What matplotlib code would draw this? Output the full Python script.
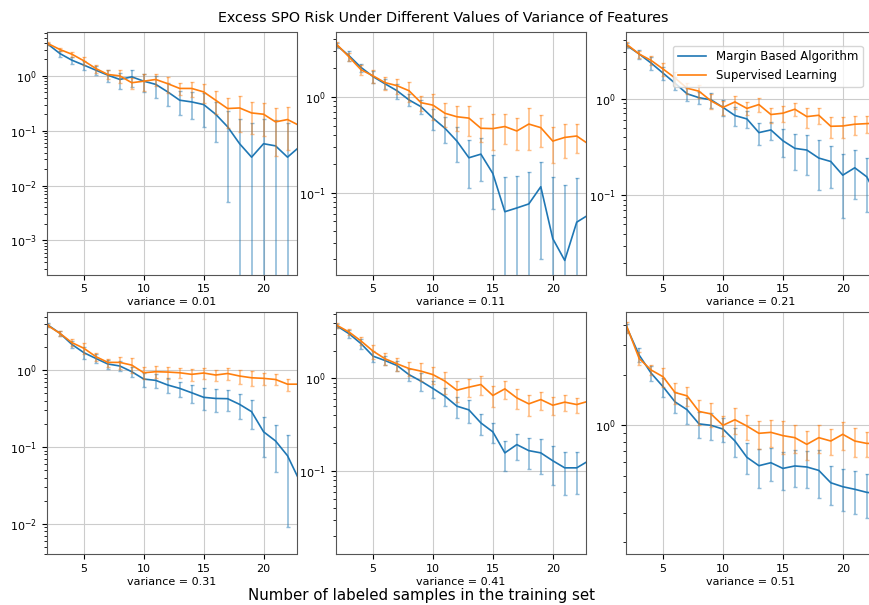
import numpy as np
import matplotlib
matplotlib.use("Agg")
import matplotlib.pyplot as plt

plt.rcParams['font.family'] = ['DejaVu Sans']
plt.rcParams['font.size'] = 8

# number of labeled samples
n_samples = list(range(2, 24))
variances = [0.01, 0.11, 0.21, 0.31, 0.41, 0.51]

# mean / std of excess SPO risk, Margin Based Algorithm
mba_mean = [
    [3.78, 2.55, 1.93, 1.57, 1.27, 1.03, 0.86, 0.96, 0.80, 0.70, 0.51, 0.36, 0.335, 0.30, 0.20, 0.118, 0.058, 0.033, 0.058, 0.053, 0.033, 0.051],
    [3.43, 2.69, 2.03, 1.63, 1.37, 1.16, 0.93, 0.79, 0.60, 0.47, 0.345, 0.231, 0.252, 0.158, 0.063, 0.069, 0.076, 0.115, 0.033, 0.0195, 0.049, 0.0586],
    [3.52, 2.89, 2.33, 1.83, 1.44, 1.12, 1.02, 0.97, 0.81, 0.667, 0.615, 0.444, 0.473, 0.366, 0.305, 0.293, 0.242, 0.223, 0.161, 0.192, 0.155, 0.09],
    [3.90, 3.04, 2.18, 1.70, 1.43, 1.21, 1.14, 0.96, 0.77, 0.74, 0.644, 0.582, 0.51, 0.445, 0.43, 0.427, 0.36, 0.289, 0.158, 0.12, 0.077, 0.0364],
    [3.67, 3.03, 2.37, 1.74, 1.56, 1.38, 1.10, 0.936, 0.78, 0.644, 0.503, 0.459, 0.332, 0.266, 0.158, 0.194, 0.167, 0.158, 0.13, 0.109, 0.109, 0.13],
    [3.80, 2.63, 2.05, 1.70, 1.38, 1.24, 1.02, 1.0, 0.95, 0.806, 0.644, 0.574, 0.598, 0.553, 0.572, 0.564, 0.538, 0.454, 0.43, 0.415, 0.398, 0.39],
]
mba_std = [
    [0.2, 0.3, 0.25, 0.3, 0.22, 0.25, 0.28, 0.34, 0.3, 0.3, 0.23, 0.17, 0.17, 0.184, 0.1375, 0.113, 0.109, 0.106, 0.107, 0.104, 0.108, 0.105],
    [0.2, 0.3, 0.2, 0.22, 0.17, 0.2, 0.13, 0.13, 0.15, 0.14, 0.135, 0.12, 0.12, 0.09, 0.083, 0.081, 0.087, 0.095, 0.113, 0.099, 0.094, 0.09],
    [0.2, 0.32, 0.37, 0.27, 0.22, 0.18, 0.15, 0.18, 0.155, 0.15, 0.12, 0.11, 0.105, 0.12, 0.125, 0.13, 0.13, 0.103, 0.103, 0.1, 0.088, 0.08],
    [0.2, 0.25, 0.23, 0.3, 0.18, 0.16, 0.17, 0.13, 0.16, 0.155, 0.14, 0.13, 0.14, 0.14, 0.145, 0.13, 0.125, 0.118, 0.085, 0.073, 0.068, 0.06],
    [0.2, 0.3, 0.28, 0.25, 0.18, 0.17, 0.15, 0.2, 0.17, 0.14, 0.125, 0.125, 0.085, 0.065, 0.056, 0.06, 0.06, 0.065, 0.058, 0.053, 0.052, 0.05],
    [0.25, 0.25, 0.2, 0.22, 0.2, 0.22, 0.18, 0.18, 0.15, 0.16, 0.135, 0.15, 0.135, 0.14, 0.145, 0.14, 0.17, 0.12, 0.12, 0.12, 0.117, 0.115],
]

# mean / std of excess SPO risk, Supervised Learning
sl_mean = [
    [3.88, 3.02, 2.48, 1.88, 1.36, 1.06, 1.0, 0.75, 0.80, 0.86, 0.72, 0.59, 0.59, 0.51, 0.36, 0.254, 0.26, 0.211, 0.20, 0.145, 0.16, 0.124],
    [3.51, 2.61, 1.92, 1.66, 1.41, 1.31, 1.16, 0.87, 0.82, 0.674, 0.62, 0.60, 0.47, 0.466, 0.49, 0.44, 0.52, 0.477, 0.345, 0.377, 0.39, 0.32],
    [3.61, 2.89, 2.48, 2.02, 1.63, 1.28, 1.19, 0.946, 0.81, 0.923, 0.79, 0.866, 0.683, 0.705, 0.775, 0.65, 0.671, 0.516, 0.52, 0.542, 0.55, 0.56],
    [3.83, 3.04, 2.30, 1.94, 1.51, 1.27, 1.27, 1.17, 0.93, 0.96, 0.95, 0.93, 0.887, 0.923, 0.869, 0.91, 0.843, 0.80, 0.786, 0.76, 0.66, 0.66],
    [3.73, 3.16, 2.53, 1.97, 1.63, 1.44, 1.28, 1.20, 1.10, 0.936, 0.748, 0.806, 0.861, 0.656, 0.773, 0.618, 0.533, 0.593, 0.515, 0.556, 0.524, 0.57],
    [3.85, 2.51, 2.14, 1.95, 1.57, 1.50, 1.21, 1.17, 1.0, 1.08, 0.99, 0.896, 0.908, 0.868, 0.844, 0.77, 0.844, 0.806, 0.884, 0.806, 0.78, 0.78],
]
sl_std = [
    [0.2, 0.2, 0.25, 0.3, 0.25, 0.2, 0.26, 0.18, 0.26, 0.2, 0.23, 0.15, 0.17, 0.19, 0.16, 0.14, 0.165, 0.125, 0.12, 0.11, 0.115, 0.11],
    [0.2, 0.25, 0.22, 0.26, 0.22, 0.24, 0.27, 0.16, 0.24, 0.19, 0.18, 0.21, 0.135, 0.19, 0.17, 0.16, 0.24, 0.175, 0.14, 0.15, 0.13, 0.13],
    [0.2, 0.25, 0.25, 0.3, 0.25, 0.16, 0.18, 0.17, 0.13, 0.15, 0.12, 0.135, 0.12, 0.14, 0.12, 0.15, 0.125, 0.13, 0.13, 0.12, 0.11, 0.11],
    [0.2, 0.2, 0.25, 0.3, 0.17, 0.15, 0.22, 0.26, 0.17, 0.17, 0.17, 0.14, 0.15, 0.15, 0.15, 0.165, 0.18, 0.17, 0.15, 0.125, 0.12, 0.12],
    [0.2, 0.25, 0.25, 0.33, 0.24, 0.23, 0.21, 0.25, 0.23, 0.25, 0.19, 0.18, 0.2, 0.165, 0.17, 0.15, 0.135, 0.13, 0.115, 0.105, 0.095, 0.1],
    [0.3, 0.22, 0.15, 0.25, 0.22, 0.2, 0.2, 0.19, 0.14, 0.19, 0.17, 0.17, 0.17, 0.19, 0.16, 0.15, 0.16, 0.14, 0.17, 0.16, 0.13, 0.13],
]

ylims = [(2.4e-4, 6.3), (0.0139, 4.77), (0.0151, 4.88), (0.004, 5.82), (0.0128, 5.24), (0.17, 4.77)]

W, H = 869, 605
fig = plt.figure(figsize=(W / 100, H / 100), dpi=100)

# axes boxes in pixels (left, top); third column runs past the right edge
lefts = [46.5, 335.7, 625.7]
tops = [32, 311.7]
aw, ah = 250, 242.5

for i, var in enumerate(variances):
    r, c = divmod(i, 3)
    ax = fig.add_axes([lefts[c] / W, 1 - (tops[r] + ah) / H, aw / W, ah / H])
    x = np.array(n_samples)
    ax.plot(x, mba_mean[i], color='tab:blue', lw=1.2, label='Margin Based Algorithm')
    ax.errorbar(x, mba_mean[i], yerr=mba_std[i], fmt='none', ecolor='tab:blue',
                alpha=0.5, capsize=1.5, elinewidth=1.2)
    ax.plot(x, sl_mean[i], color='tab:orange', lw=1.2, label='Supervised Learning')
    ax.errorbar(x, sl_mean[i], yerr=sl_std[i], fmt='none', ecolor='tab:orange',
                alpha=0.5, capsize=1.5, elinewidth=1.2)
    ax.set_yscale('log')
    ax.set_xlim(1.88, 22.75)
    ax.set_ylim(*ylims[i])
    ax.set_xticks([5, 10, 15, 20])
    ax.grid(True, color='#cccccc', lw=0.8)
    ax.set_axisbelow(True)
    ax.set_xlabel(f'variance = {var}', labelpad=2)
    for s in ax.spines.values():
        s.set_color('#555555')
    if i == 2:
        ax.legend(loc='upper right', bbox_to_anchor=(862.7 / W, 1 - 45.7 / H),
                  bbox_transform=fig.transFigure, borderaxespad=0, fontsize=8.5,
                  handlelength=2.4)

fig.text(443.7 / W, 1 - 18 / H, 'Excess SPO Risk Under Different Values of Variance of Features',
         ha='center', va='center', fontsize=10.3)
fig.text(421 / W, 1 - 600 / H, 'Number of labeled samples in the training set',
         ha='center', va='baseline', fontsize=10.8)

fig.savefig('out.png', dpi=100)
